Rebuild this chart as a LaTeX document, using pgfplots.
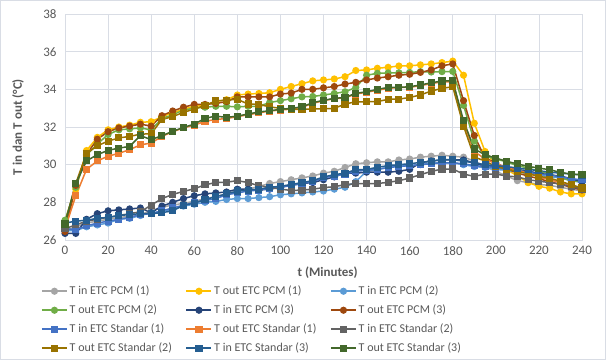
\documentclass[border=0pt]{standalone}
\usepackage{pgfplots}
\pgfplotsset{compat=1.18}
\usepackage{pgfplotstable}
\usepackage{fontspec}
\setmainfont{Carlito}
\definecolor{cA}{HTML}{A5A5A5}
\definecolor{cB}{HTML}{FFC000}
\definecolor{cC}{HTML}{5B9BD5}
\definecolor{cD}{HTML}{70AD47}
\definecolor{cE}{HTML}{264478}
\definecolor{cF}{HTML}{9E480E}
\definecolor{cG}{HTML}{4472C4}
\definecolor{cH}{HTML}{ED7D31}
\definecolor{cI}{HTML}{636363}
\definecolor{cJ}{HTML}{997300}
\definecolor{cK}{HTML}{255E91}
\definecolor{cL}{HTML}{43682B}
\definecolor{gridc}{HTML}{D9DDE5}
\definecolor{txt}{HTML}{595959}
\pgfplotstableread{
t a b c d e f g h i j k l
0 26.5 26.8 26.5 27.05 26.35 26.45 26.6 26.6 26.6 26.9 26.9 26.85
5 26.7 28.7 26.5 28.8 26.35 28.9 26.55 28.35 26.8 29.0 27.0 29.0
10 26.9 30.75 26.7 30.5 27.1 30.55 26.75 29.75 27.0 30.6 27.05 30.2
15 27.0 31.45 26.8 31.1 27.4 31.35 26.9 30.2 27.1 31.0 27.15 30.53
20 27.1 31.85 26.9 31.6 27.55 31.75 27.0 30.45 27.2 31.25 27.2 30.76
25 27.2 32.0 27.1 31.85 27.6 31.95 27.1 30.6 27.3 31.42 27.3 30.88
30 27.25 32.1 27.15 31.9 27.65 32.05 27.2 30.8 27.4 31.5 27.35 30.97
35 27.35 32.25 27.3 31.95 27.7 32.15 27.35 31.05 27.5 31.62 27.4 31.54
40 27.55 32.28 27.45 31.85 27.45 32.05 27.4 31.15 27.85 31.64 27.4 31.33
45 27.75 32.55 27.5 32.45 27.8 32.6 27.55 31.5 28.2 32.4 27.45 31.54
50 27.85 32.75 27.6 32.65 28.0 32.85 27.7 31.75 28.42 32.55 27.55 31.77
55 27.95 32.95 27.8 32.9 28.2 33.05 27.85 31.95 28.58 32.78 27.85 31.98
60 28.05 33.1 27.9 33.0 28.35 33.2 28.0 32.1 28.72 32.95 27.95 32.15
65 28.2 33.15 28.0 33.05 28.45 33.2 28.1 32.3 28.93 33.15 28.15 32.46
70 28.3 33.35 28.05 33.1 28.5 33.25 28.2 32.4 29.05 33.38 28.3 32.58
75 28.45 33.45 28.15 33.1 28.55 33.35 28.4 32.45 29.07 33.43 28.45 32.51
80 28.6 33.7 28.2 33.07 28.7 33.6 28.5 32.55 29.15 33.47 28.6 32.58
85 28.7 33.75 28.2 33.1 28.7 33.6 28.6 32.65 29.05 33.22 28.65 32.69
90 28.85 33.78 28.25 33.1 28.65 33.6 28.65 32.75 28.88 33.2 28.7 32.8
95 29.0 33.82 28.3 33.3 28.7 33.6 28.75 32.85 28.8 33.07 28.8 32.86
100 29.1 34.0 28.4 33.4 28.8 33.75 28.8 32.9 28.7 32.99 28.85 32.94
105 29.2 34.15 28.45 33.5 28.9 33.8 28.9 32.95 28.63 32.94 28.95 32.99
110 29.3 34.3 28.5 33.6 29.0 34.0 29.0 33.05 28.65 32.94 29.05 33.07
115 29.4 34.45 28.55 33.62 29.05 34.0 29.1 33.25 28.7 32.96 29.15 33.29
120 29.55 34.5 28.6 33.7 29.2 34.08 29.3 33.4 28.78 32.96 29.35 33.42
125 29.65 34.55 28.7 33.78 29.35 34.15 29.4 33.5 28.83 32.99 29.47 33.52
130 29.85 34.67 28.8 33.87 29.55 34.28 29.5 33.55 28.94 33.22 29.55 33.57
135 30.05 35.0 29.1 34.1 29.55 34.37 29.65 33.75 28.99 33.34 29.73 33.79
140 30.1 35.03 29.65 34.75 29.6 34.5 29.7 33.85 28.99 33.34 29.75 33.87
145 30.15 35.12 29.75 34.85 29.6 34.6 29.75 33.95 29.0 33.35 29.86 34.0
150 30.15 35.17 29.85 34.87 29.6 34.67 29.85 34.05 29.06 33.47 29.95 34.1
155 30.25 35.24 29.95 34.88 29.65 34.75 29.9 34.1 29.15 33.48 30.0 34.1
160 30.3 35.25 29.95 34.9 29.75 34.8 29.95 34.1 29.29 33.57 30.05 34.14
165 30.4 35.3 30.0 34.94 30.1 34.9 30.0 34.2 29.47 33.7 30.12 34.23
170 30.45 35.35 30.1 34.92 30.2 35.03 30.05 34.3 29.64 33.91 30.18 34.35
175 30.5 35.42 30.1 34.94 30.25 35.25 30.1 34.4 29.77 34.05 30.27 34.44
180 30.45 35.5 30.1 34.95 30.25 35.35 30.1 34.4 29.77 34.14 30.27 34.46
185 30.4 34.75 30.0 33.15 30.25 33.4 30.05 32.2 29.5 32.05 30.18 32.33
190 30.2 32.2 29.9 31.25 30.1 31.55 29.95 30.7 29.38 30.4 30.1 30.83
195 29.9 30.7 29.85 30.45 29.9 30.35 29.9 30.3 29.5 30.2 30.0 30.53
200 29.65 30.0 29.75 30.3 29.9 30.1 29.85 30.05 29.5 29.9 29.95 30.35
205 29.4 29.75 29.7 30.15 29.8 29.8 29.75 29.85 29.4 29.77 29.9 30.18
210 29.15 29.4 29.6 29.95 29.75 29.55 29.7 29.7 29.35 29.64 29.82 30.04
215 29.05 29.05 29.55 29.82 29.65 29.4 29.6 29.55 29.2 29.52 29.75 29.91
220 28.95 28.85 29.45 29.65 29.55 29.25 29.5 29.35 29.12 29.38 29.68 29.82
225 28.9 28.75 29.35 29.5 29.45 29.1 29.45 29.2 29.05 29.29 29.6 29.73
230 28.8 28.55 29.3 29.3 29.4 28.95 29.35 29.05 28.97 29.11 29.55 29.59
235 28.7 28.45 29.15 29.15 29.25 28.8 29.25 28.9 28.85 28.94 29.5 29.5
240 28.6 28.45 29.05 29.1 29.1 28.65 29.2 28.75 28.71 28.76 29.45 29.47
}\data
\pgfplotsset{
  ser/.style={color=#1, line width=1.5pt, mark size=2.8pt, mark options={solid, fill=#1, draw=#1}},
}
\begin{document}
\begin{tikzpicture}[x=1pt,y=1pt]
\path[use as bounding box] (0,0) rectangle (606,360);
\draw[gridc, line width=0.8pt] (0.4,0.4) rectangle (605.6,359.6);
\begin{axis}[
  at={(65pt,120pt)}, anchor=south west,
  width=517pt, height=226pt, scale only axis,
  xmin=0, xmax=240, ymin=26, ymax=38,
  xtick={0,20,...,240}, ytick={26,28,...,38},
  grid=major, grid style={color=gridc, line width=0.8pt},
  axis line style={color=gridc, line width=0.8pt},
  tick style={draw=none},
  ticklabel style={font=\fontsize{13}{13}\selectfont, color=txt},
  yticklabel style={xshift=-5pt},
  xticklabel style={yshift=-3pt},
  /pgf/number format/assume math mode=true,
  xlabel={\textbf{t (Minutes)}},
  ylabel={\textbf{T in dan T out (°C)}},
  label style={font=\fontsize{13}{13}\selectfont, color=txt},
  xlabel style={at={(axis description cs:0.508,-0.145)}, anchor=center},
  ylabel style={at={(axis description cs:-0.091,0.5)}, anchor=center},
  legend columns=3,
  legend style={at={(axis description cs:-0.0464,-0.197)}, anchor=north west,
    draw=none, fill=none, inner sep=0pt,
    font=\fontsize{12}{12}\selectfont, text=txt,
    nodes={inner xsep=2pt, inner ysep=0pt, text height=10pt, text depth=3pt},
    row sep=6pt},
  legend cell align=left,
  legend image code/.code={\draw[#1, mark repeat=2, mark phase=2] plot coordinates {(0pt,0pt) (12.5pt,0pt) (25pt,0pt)};},
]
\addplot[ser=cA, mark=*] table[x=t,y=a]{\data};
\addlegendentry{\makebox[114pt][l]{T in ETC PCM (1)}}
\addplot[ser=cB, mark=*] table[x=t,y=b]{\data};
\addlegendentry{\makebox[114pt][l]{T out ETC PCM (1)}}
\addplot[ser=cC, mark=*] table[x=t,y=c]{\data};
\addlegendentry{\makebox[114pt][l]{T in ETC PCM (2)}}
\addplot[ser=cD, mark=*] table[x=t,y=d]{\data};
\addlegendentry{\makebox[114pt][l]{T out ETC PCM (2)}}
\addplot[ser=cE, mark=*] table[x=t,y=e]{\data};
\addlegendentry{\makebox[114pt][l]{T in ETC PCM (3)}}
\addplot[ser=cF, mark=*] table[x=t,y=f]{\data};
\addlegendentry{\makebox[114pt][l]{T out ETC PCM (3)}}
\addplot[ser=cG, mark=square*] table[x=t,y=g]{\data};
\addlegendentry{\makebox[114pt][l]{T in ETC Standar (1)}}
\addplot[ser=cH, mark=square*] table[x=t,y=h]{\data};
\addlegendentry{\makebox[114pt][l]{T out ETC Standar (1)}}
\addplot[ser=cI, mark=square*] table[x=t,y=i]{\data};
\addlegendentry{\makebox[114pt][l]{T in ETC Standar (2)}}
\addplot[ser=cJ, mark=square*] table[x=t,y=j]{\data};
\addlegendentry{\makebox[114pt][l]{T out ETC Standar (2)}}
\addplot[ser=cK, mark=square*] table[x=t,y=k]{\data};
\addlegendentry{\makebox[114pt][l]{T in ETC Standar (3)}}
\addplot[ser=cL, mark=square*] table[x=t,y=l]{\data};
\addlegendentry{\makebox[114pt][l]{T out ETC Standar (3)}}
\end{axis}
\end{tikzpicture}
\end{document}
